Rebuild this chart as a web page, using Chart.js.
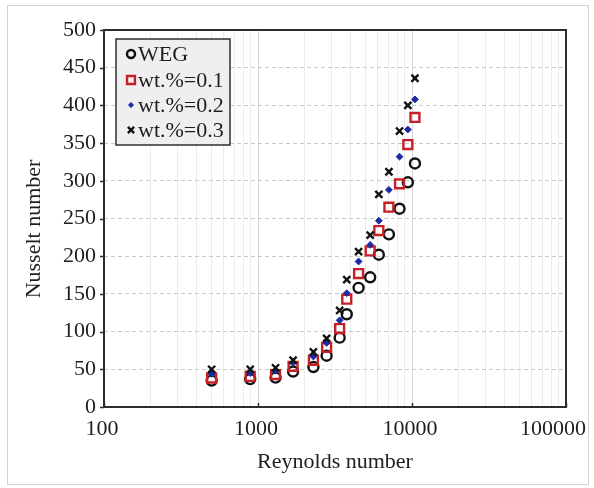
<!DOCTYPE html>
<html>
<head>
<meta charset="utf-8">
<script src="https://cdn.jsdelivr.net/npm/chart.js@4.4.0/dist/chart.umd.min.js"></script>
<style>
  html, body { margin: 0; padding: 0; background: #fff; }
  #wrap { width: 594px; height: 488px; }
</style>
</head>
<body>
<div id="wrap"><canvas id="nuChart" width="594" height="488"></canvas></div>
<script>
// values
const reynolds = [500, 890, 1300, 1690, 2290, 2790, 3390, 3770, 4500, 5350, 6090, 7080, 8300, 9400, 10450];
const nuWEG = [35, 37, 39, 47, 53, 68, 92, 123, 158, 172, 202, 229, 263, 298, 323];
const nu01 = [38.5, 40.5, 43, 54, 62, 79, 104, 143, 177, 207, 234, 265, 296, 348, 384];
const nu02 = [44, 45, 48, 59, 67, 85, 115, 151, 193, 215, 247, 288, 332, 368, 408];
const nu03 = [50, 50, 52, 62, 73, 91, 128, 169, 206, 228, 282, 312, 366, 400, 436];
const seriesLabels = ['WEG', 'wt.%=0.1', 'wt.%=0.2', 'wt.%=0.3'];
const xMajorTicks = [100, 1000, 10000, 100000];
const yTicks = [0, 50, 100, 150, 200, 250, 300, 350, 400, 450, 500];

const FONT = '"Liberation Serif", "Times New Roman", serif';
const TXT = '#1e1e1e';

const styles = [
    { style: 'circle', color: '#111111', fill: 'rgba(0,0,0,0)', radius: 5, width: 2.4 },
    { style: 'rect', color: '#c42026', fill: 'rgba(0,0,0,0)', radius: 6.3, width: 2.4 },
    { style: 'rectRot', color: '#1b2aa6', fill: '#1b2aa6', radius: 3.4, width: 1 },
    { style: 'crossRot', color: '#111111', fill: '#111111', radius: 5, width: 2.4 }
];
const seriesData = [nuWEG, nu01, nu02, nu03];

const toPoints = arr => arr.map((v, i) => ({ x: reynolds[i], y: v }));

// small marker painter used for the legend
function paintMarker(ctx, s, x, y, r) {
    ctx.save();
    ctx.strokeStyle = s.color;
    ctx.fillStyle = s.fill;
    ctx.lineWidth = s.width;
    ctx.beginPath();
    if (s.style === 'circle') {
        ctx.arc(x, y, r, 0, Math.PI * 2);
        ctx.stroke();
    } else if (s.style === 'rect') {
        const h = r * Math.SQRT1_2;
        ctx.rect(x - h, y - h, 2 * h, 2 * h);
        ctx.stroke();
    } else if (s.style === 'rectRot') {
        ctx.moveTo(x, y - r); ctx.lineTo(x + r, y); ctx.lineTo(x, y + r); ctx.lineTo(x - r, y);
        ctx.closePath();
        ctx.fill();
    } else {
        const h = r * Math.SQRT1_2;
        ctx.moveTo(x - h, y - h); ctx.lineTo(x + h, y + h);
        ctx.moveTo(x + h, y - h); ctx.lineTo(x - h, y + h);
        ctx.stroke();
    }
    ctx.restore();
}

const framePlugin = {
    id: 'frame',
    beforeDraw(chart) {
        const ctx = chart.ctx;
        ctx.save();
        ctx.fillStyle = '#fff';
        ctx.fillRect(0, 0, chart.width, chart.height);
        ctx.strokeStyle = '#d2d2d2';
        ctx.lineWidth = 1;
        ctx.strokeRect(7.5, 5.5, 581, 479);
        ctx.restore();
    },
    afterDraw(chart) {
        const ctx = chart.ctx;
        const a = chart.chartArea;
        const ys = chart.scales.y, xs = chart.scales.x;
        ctx.save();
        // plot box
        ctx.strokeStyle = '#2e2e2e';
        ctx.lineWidth = 2;
        ctx.strokeRect(a.left, a.top, a.right - a.left, a.bottom - a.top);
        // tick marks
        ctx.lineWidth = 1.5;
        ctx.beginPath();
        yTicks.forEach(v => {
            const py = Math.round(ys.getPixelForValue(v)) + 0.5;
            ctx.moveTo(a.left - 4, py); ctx.lineTo(a.left, py);
        });
        xMajorTicks.forEach(v => {
            const px = Math.round(xs.getPixelForValue(v)) + 0.5;
            ctx.moveTo(px, a.bottom); ctx.lineTo(px, a.bottom - 4);
        });
        ctx.stroke();

        // y title
        ctx.fillStyle = TXT;
        ctx.font = '22px ' + FONT;
        ctx.textAlign = 'center';
        ctx.textBaseline = 'middle';
        ctx.translate(34, 229);
        ctx.rotate(-Math.PI / 2);
        ctx.fillText('Nusselt number', 0, 0);
        ctx.restore();

        // legend box
        ctx.save();
        ctx.fillStyle = '#efefef';
        ctx.strokeStyle = '#2e2e2e';
        ctx.lineWidth = 1.5;
        ctx.fillRect(116, 39, 114, 106);
        ctx.strokeRect(116, 39, 114, 106);
        ctx.font = '22px ' + FONT;
        ctx.textAlign = 'left';
        ctx.textBaseline = 'middle';
        const rows = [54, 80, 105, 130];
        const legR = [4, 5.6, 3, 4.4];
        seriesLabels.forEach((lab, i) => {
            paintMarker(ctx, styles[i], 131, rows[i], legR[i]);
            ctx.fillStyle = TXT;
            ctx.fillText(lab, 138, rows[i] + 1);
        });
        ctx.restore();
    }
};

const datasets = seriesLabels.map((lab, i) => ({
    label: lab,
    data: toPoints(seriesData[i]),
    showLine: false,
    pointStyle: styles[i].style,
    pointRadius: styles[i].radius,
    pointHoverRadius: styles[i].radius,
    pointBorderWidth: styles[i].width,
    pointBorderColor: styles[i].color,
    pointBackgroundColor: styles[i].fill,
    order: 3 - i
}));

new Chart(document.getElementById('nuChart').getContext('2d'), {
    type: 'scatter',
    data: { datasets },
    options: {
        responsive: false,
        animation: false,
        layout: { padding: { top: 30, right: 28, left: 0, bottom: 0 } },
        plugins: { legend: { display: false }, tooltip: { enabled: false } },
        scales: {
            x: {
                type: 'logarithmic',
                min: 100,
                max: 100000,
                afterBuildTicks(scale) {
                    const t = [];
                    for (let d = 0; d < xMajorTicks.length - 1; d++) {
                        for (let m = 1; m < 10; m++) t.push({ value: xMajorTicks[d] * m });
                    }
                    t.push({ value: xMajorTicks[xMajorTicks.length - 1] });
                    scale.ticks = t;
                },
                afterFit(scale) {
                    scale.height = 81;
                    scale.paddingLeft = 0;
                    scale.paddingRight = 0;
                },
                grid: {
                    drawTicks: false,
                    color: c => (c.tick && xMajorTicks.includes(c.tick.value)) ? '#d6d6d6' : '#ececec',
                    lineWidth: 1
                },
                border: { display: false },
                ticks: {
                    autoSkip: false,
                    maxRotation: 0,
                    padding: 9,
                    labelOffset: -2,
                    color: TXT,
                    font: { family: FONT, size: 22 },
                    // last label is pulled left so it stays inside the picture
                    callback: v => {
                        if (!xMajorTicks.includes(v)) return '';
                        return v === 100000 ? String(v) + '\u00a0\u00a0\u00a0\u00a0' : String(v);
                    }
                },
                title: {
                    display: true,
                    text: 'Reynolds number',
                    color: TXT,
                    font: { family: FONT, size: 22 },
                    padding: { top: 0, bottom: 13 }
                }
            },
            y: {
                min: 0,
                max: 500,
                afterBuildTicks(scale) { scale.ticks = yTicks.map(v => ({ value: v })); },
                afterFit(scale) {
                    scale.width = 104;
                    scale.paddingTop = 0;
                    scale.paddingBottom = 0;
                },
                grid: { drawTicks: false, color: '#cacaca', lineWidth: 1 },
                border: { display: false, dash: [4, 3] },
                ticks: {
                    padding: 8,
                    color: TXT,
                    font: { family: FONT, size: 22 }
                }
            }
        }
    },
    plugins: [framePlugin]
});
</script>
</body>
</html>
